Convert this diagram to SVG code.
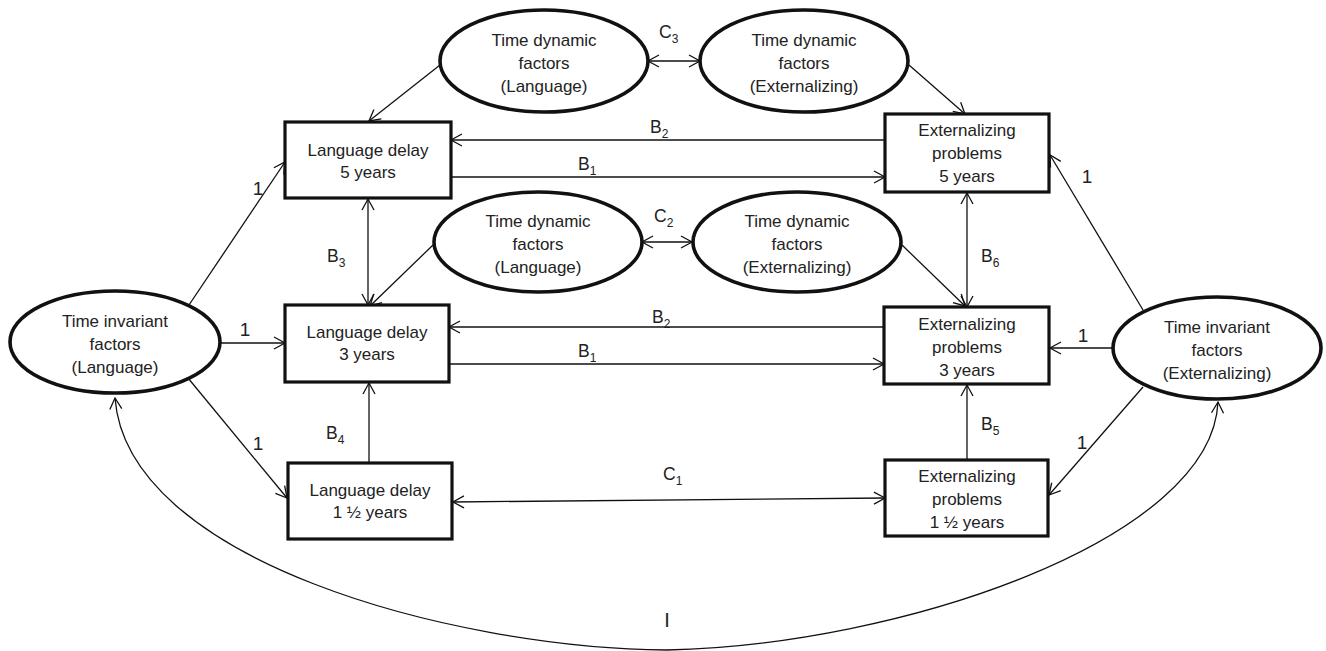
<svg xmlns="http://www.w3.org/2000/svg" width="1326" height="651" viewBox="0 0 1326 651">
<style>
.node{fill:#fff;stroke:#111;}
.box{stroke-width:3.2;}
.ell{stroke-width:3.6;}
text{font-family:"Liberation Sans","Open Sans",Arial,sans-serif;font-size:17px;fill:#222;text-anchor:middle;}
.lbl{text-anchor:start;font-size:17.5px;}
.one{font-size:19px;}
.sub{font-size:12px;}
.c{fill:none;stroke:#111;stroke-width:1.3;}
</style>
<defs>
<marker id="ah" markerUnits="userSpaceOnUse" markerWidth="14" markerHeight="14" viewBox="0 0 14 14" refX="12" refY="7" orient="auto-start-reverse">
<path d="M1,1 L12,7 L1,13" fill="none" stroke="#111" stroke-width="1.3"/>
</marker>
</defs>
<rect width="1326" height="651" fill="#fff"/>
<g id="connectors">
<path class="c" d="M648,61 L700,61" marker-start="url(#ah)" marker-end="url(#ah)"/>
<path class="c" d="M642,242 L692,242" marker-start="url(#ah)" marker-end="url(#ah)"/>
<path class="c" d="M440,65 L369,121" marker-end="url(#ah)"/>
<path class="c" d="M909,65 L965,114" marker-end="url(#ah)"/>
<path class="c" d="M885,140 L451,140" marker-end="url(#ah)"/>
<path class="c" d="M451,177 L885,177" marker-end="url(#ah)"/>
<path class="c" d="M885,327 L449,327" marker-end="url(#ah)"/>
<path class="c" d="M449,364 L884,364" marker-end="url(#ah)"/>
<path class="c" d="M433,245 L370,306" marker-end="url(#ah)"/>
<path class="c" d="M902,245 L965,306" marker-end="url(#ah)"/>
<path class="c" d="M368,199 L368,305" marker-start="url(#ah)" marker-end="url(#ah)"/>
<path class="c" d="M967,193 L967,307" marker-start="url(#ah)" marker-end="url(#ah)"/>
<path class="c" d="M369,463 L369,383" marker-end="url(#ah)"/>
<path class="c" d="M967,460 L967,385" marker-end="url(#ah)"/>
<path class="c" d="M220,343 L285,343" marker-end="url(#ah)"/>
<path class="c" d="M1113,348 L1050,348" marker-end="url(#ah)"/>
<path class="c" d="M189,305 L285,162" marker-end="url(#ah)"/>
<path class="c" d="M1143,310 L1050,155" marker-end="url(#ah)"/>
<path class="c" d="M188,378 L287,498" marker-end="url(#ah)"/>
<path class="c" d="M1143,387 L1049,495" marker-end="url(#ah)"/>
<path class="c" d="M453,502 Q670,500 885,498" marker-start="url(#ah)" marker-end="url(#ah)"/>
<path class="c" d="M115,398 C127,560 450,648 667,650 C900,645 1212,540 1218,402" marker-start="url(#ah)" marker-end="url(#ah)"/>
</g>
<g id="labels">
<text class="one" x="258" y="195">1</text>
<text class="one" x="245" y="336">1</text>
<text class="one" x="258" y="450">1</text>
<text class="one" x="1087" y="183">1</text>
<text class="one" x="1083" y="342">1</text>
<text class="one" x="1082" y="449">1</text>
<text class="lbl" x="659" y="38">C<tspan class="sub" dy="5">3</tspan></text>
<text class="lbl" x="654" y="222">C<tspan class="sub" dy="5">2</tspan></text>
<text class="lbl" x="663" y="480">C<tspan class="sub" dy="5">1</tspan></text>
<text class="lbl" x="650" y="133">B<tspan class="sub" dy="5">2</tspan></text>
<text class="lbl" x="578" y="170">B<tspan class="sub" dy="5">1</tspan></text>
<text class="lbl" x="652" y="323">B<tspan class="sub" dy="5">2</tspan></text>
<text class="lbl" x="578" y="357">B<tspan class="sub" dy="5">1</tspan></text>
<text class="lbl" x="327" y="262">B<tspan class="sub" dy="5">3</tspan></text>
<text class="lbl" x="326" y="439">B<tspan class="sub" dy="5">4</tspan></text>
<text class="lbl" x="981" y="430">B<tspan class="sub" dy="5">5</tspan></text>
<text class="lbl" x="981" y="262">B<tspan class="sub" dy="5">6</tspan></text>
<text class="one" x="667" y="627" style="font-size:20px">I</text>
</g>
<g id="td-lang-top">
<ellipse class="node ell" cx="544" cy="61" rx="104" ry="51"/>
<text x="544" y="46">Time dynamic</text>
<text x="544" y="69">factors</text>
<text x="544" y="92">(Language)</text>
</g>
<g id="td-ext-top">
<ellipse class="node ell" cx="804" cy="61" rx="104" ry="51"/>
<text x="804" y="46">Time dynamic</text>
<text x="804" y="69">factors</text>
<text x="804" y="92">(Externalizing)</text>
</g>
<g id="td-lang-mid">
<ellipse class="node ell" cx="538" cy="242" rx="104" ry="50"/>
<text x="538" y="227">Time dynamic</text>
<text x="538" y="250">factors</text>
<text x="538" y="273">(Language)</text>
</g>
<g id="td-ext-mid">
<ellipse class="node ell" cx="797" cy="242" rx="104" ry="50"/>
<text x="797" y="227">Time dynamic</text>
<text x="797" y="250">factors</text>
<text x="797" y="273">(Externalizing)</text>
</g>
<g id="ti-lang">
<ellipse class="node ell" cx="115" cy="342" rx="105" ry="51"/>
<text x="115" y="327">Time invariant</text>
<text x="115" y="350">factors</text>
<text x="115" y="373">(Language)</text>
</g>
<g id="ti-ext">
<ellipse class="node ell" cx="1217" cy="348" rx="104" ry="51"/>
<text x="1217" y="333">Time invariant</text>
<text x="1217" y="356">factors</text>
<text x="1217" y="379">(Externalizing)</text>
</g>
<g id="ld5">
<rect class="node box" x="285" y="122" width="166" height="76"/>
<text x="368" y="156">Language delay</text>
<text x="368" y="178">5 years</text>
</g>
<g id="ld3">
<rect class="node box" x="285" y="305" width="164" height="77"/>
<text x="367" y="338">Language delay</text>
<text x="367" y="360">3 years</text>
</g>
<g id="ld15">
<rect class="node box" x="288" y="463" width="164" height="76"/>
<text x="370" y="496">Language delay</text>
<text x="370" y="518">1 ½  years</text>
</g>
<g id="ep5">
<rect class="node box" x="885" y="114" width="164" height="78"/>
<text x="967" y="136">Externalizing</text>
<text x="967" y="159">problems</text>
<text x="967" y="182">5 years</text>
</g>
<g id="ep3">
<rect class="node box" x="884" y="307" width="165" height="77"/>
<text x="967" y="330">Externalizing</text>
<text x="967" y="353">problems</text>
<text x="967" y="376">3 years</text>
</g>
<g id="ep15">
<rect class="node box" x="885" y="460" width="163" height="76"/>
<text x="967" y="482">Externalizing</text>
<text x="967" y="505">problems</text>
<text x="967" y="528">1 ½  years</text>
</g>
</svg>
